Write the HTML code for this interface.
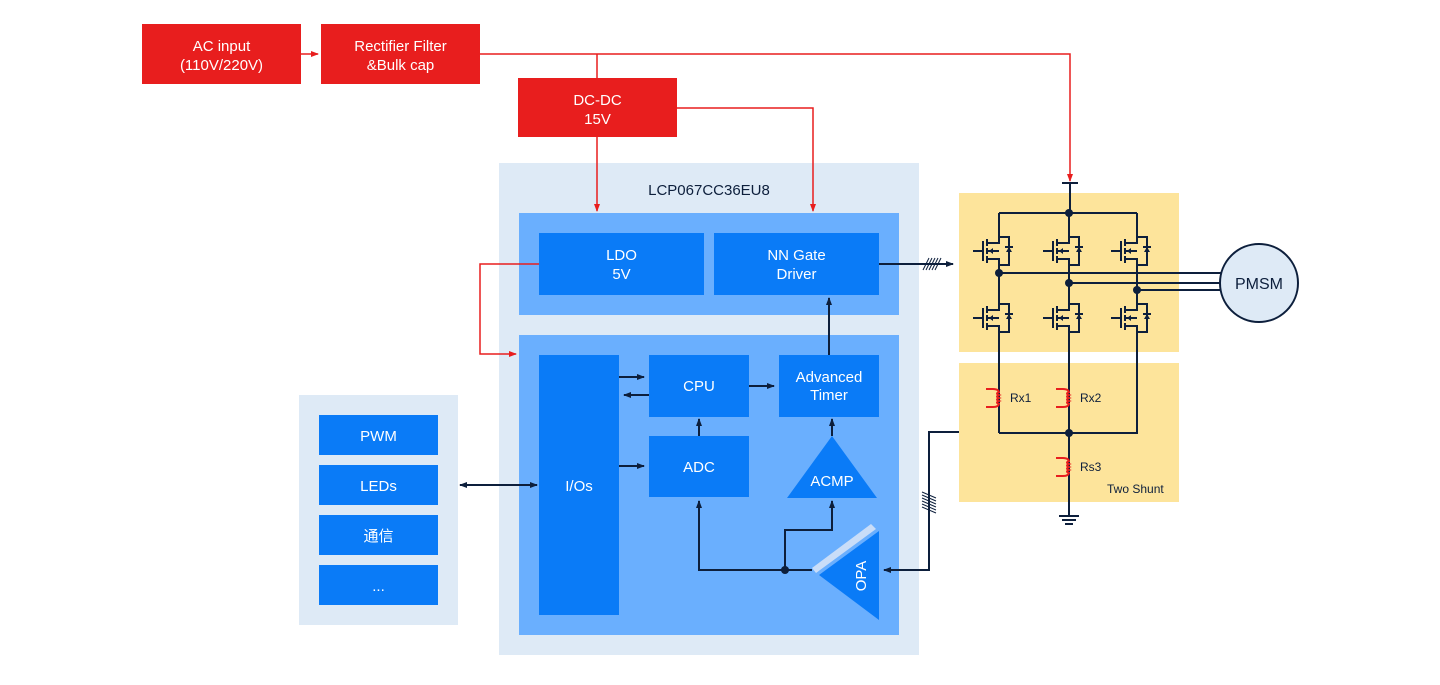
<!DOCTYPE html>
<html><head><meta charset="utf-8"><style>
body{margin:0;background:#fff}
svg text{font-family:"Liberation Sans","Noto Sans CJK SC",sans-serif}
</style></head><body>
<svg width="1440" height="680" viewBox="0 0 1440 680" xmlns="http://www.w3.org/2000/svg">
<defs>
<marker id="ak" markerWidth="8" markerHeight="8" refX="7" refY="4" orient="auto" markerUnits="userSpaceOnUse"><path d="M0,1 L8,4 L0,7 z" fill="#0d1f3c"/></marker>
<marker id="ar" markerWidth="8" markerHeight="8" refX="7" refY="4" orient="auto" markerUnits="userSpaceOnUse"><path d="M0,1 L8,4 L0,7 z" fill="#e81e1e"/></marker>
<marker id="aks" markerWidth="8" markerHeight="8" refX="1" refY="4" orient="auto" markerUnits="userSpaceOnUse"><path d="M8,1 L0,4 L8,7 z" fill="#0d1f3c"/></marker>
<g id="fet" fill="none" stroke="#0d1f3c" stroke-width="2">
<path d="M-26,0 H-16 M-16,-10 V10 M-12,-12 V-5 M-12,-3 V3 M-12,5 V12 M-12,-8 H0 V-18 M-12,8 H0 V18 M-12,0 H0 M0,-14 H10 V14 H0"/>
<path d="M10,-4 l-3,5 h6 z M-10,0 l4,-3 v6 z" fill="#0d1f3c" stroke="none"/>
<path d="M6,-4 H14" />
</g>
<g id="coil" fill="none" stroke="#e81e1e" stroke-width="2"><path d="M-13,-9 H-6 Q0,-9 0,-5 M-13,9 H-6 Q0,9 0,5"/><path d="M0,-6 q-4,1.5 0,3 q-4,1.5 0,3 q-4,1.5 0,3 q-4,1.5 0,3" /></g>
</defs>

<!-- power boxes -->
<rect x="142" y="24" width="159" height="60" fill="#e81e1e"/>
<text x="221.5" y="51" fill="#fff" font-size="15" text-anchor="middle">AC input</text>
<text x="221.5" y="70" fill="#fff" font-size="15" text-anchor="middle">(110V/220V)</text>
<rect x="321" y="24" width="159" height="60" fill="#e81e1e"/>
<text x="400.5" y="51" fill="#fff" font-size="15" text-anchor="middle">Rectifier Filter</text>
<text x="400.5" y="70" fill="#fff" font-size="15" text-anchor="middle">&amp;Bulk cap</text>
<rect x="518" y="78" width="159" height="59" fill="#e81e1e"/>
<text x="597.5" y="105" fill="#fff" font-size="15" text-anchor="middle">DC-DC</text>
<text x="597.5" y="124" fill="#fff" font-size="15" text-anchor="middle">15V</text>

<!-- chip -->
<rect x="499" y="163" width="420" height="492" fill="#deeaf6"/>
<text x="709" y="195" fill="#0d1f3c" font-size="15" text-anchor="middle">LCP067CC36EU8</text>
<rect x="519" y="213" width="380" height="102" fill="#6aaffe"/>
<rect x="519" y="335" width="380" height="300" fill="#6aaffe"/>
<g fill="#0a7bf7">
<rect x="539" y="233" width="165" height="62"/>
<rect x="714" y="233" width="165" height="62"/>
<rect x="539" y="355" width="80" height="260"/>
<rect x="649" y="355" width="100" height="62"/>
<rect x="779" y="355" width="100" height="62"/>
<rect x="649" y="436" width="100" height="61"/>
<path d="M832,436 L877,498 L787,498 z"/>
<path d="M819,575 L879,531 L879,620 z"/>
</g>
<path d="M812,568 L871,524 L876,529 L816,573 z" fill="#c9ddf8"/>
<g fill="#fff" font-size="15" text-anchor="middle">
<text x="621.5" y="260">LDO</text><text x="621.5" y="279">5V</text>
<text x="796.5" y="260">NN Gate</text><text x="796.5" y="279">Driver</text>
<text x="579" y="491">I/Os</text>
<text x="699" y="391">CPU</text>
<text x="829" y="382">Advanced</text><text x="829" y="400">Timer</text>
<text x="699" y="472">ADC</text>
<text x="832" y="486">ACMP</text>
<text x="0" y="0" transform="translate(866,576) rotate(-90)">OPA</text>
</g>

<g fill="none" stroke="#e81e1e" stroke-width="1.5">
<path d="M301,54 H318" marker-end="url(#ar)"/>
<path d="M480,54 H1070 V181" marker-end="url(#ar)"/>
<path d="M597,54 V78"/>
<path d="M597,137 V211" marker-end="url(#ar)"/>
<path d="M677,108 H813 V211" marker-end="url(#ar)"/>
<path d="M539,264 H480 V354 H516" marker-end="url(#ar)"/>
</g>

<g fill="none" stroke="#0d1f3c" stroke-width="2">
<path d="M619,377 H644" marker-end="url(#ak)"/>
<path d="M649,395 H624" marker-end="url(#ak)"/>
<path d="M749,386 H774" marker-end="url(#ak)"/>
<path d="M619,466 H644" marker-end="url(#ak)"/>
<path d="M699,436 V419" marker-end="url(#ak)"/>
<path d="M832,436 V419" marker-end="url(#ak)"/>
<path d="M829,355 V298" marker-end="url(#ak)"/>
<path d="M812,570 H699 V501" marker-end="url(#ak)"/>
<path d="M785,570 V530 H832 V501" marker-end="url(#ak)"/>
<path d="M879,264 H953" marker-end="url(#ak)"/>
<path d="M959,432 H929 V570 H884" marker-end="url(#ak)"/>
<path d="M460,485 H537" marker-start="url(#aks)" marker-end="url(#ak)"/>
</g>
<circle cx="785" cy="570" r="4" fill="#0d1f3c"/>
<g stroke="#0d1f3c" stroke-width="1">
<path d="M923,270 l6,-12 M926,270 l6,-12 M929,270 l6,-12 M932,270 l6,-12 M935,270 l6,-12"/>
<path d="M922,492 l14,6 M922,495 l14,6 M922,498 l14,6 M922,501 l14,6 M922,504 l14,6 M922,507 l14,6"/>
</g>

<!-- left panel -->
<rect x="299" y="395" width="159" height="230" fill="#deeaf6"/>
<g fill="#0a7bf7">
<rect x="319" y="415" width="119" height="40"/>
<rect x="319" y="465" width="119" height="40"/>
<rect x="319" y="515" width="119" height="40"/>
<rect x="319" y="565" width="119" height="40"/>
</g>
<g fill="#fff" font-size="15" text-anchor="middle">
<text x="378.5" y="441">PWM</text>
<text x="378.5" y="491">LEDs</text>
<text x="378.5" y="541">通信</text>
<text x="378.5" y="591">...</text>
</g>

<!-- inverter -->
<rect x="959" y="193" width="220" height="159" fill="#fde49b"/>
<rect x="959" y="363" width="220" height="139" fill="#fde49b"/>
<g fill="none" stroke="#0d1f3c" stroke-width="2">
<path d="M1062,183 H1078 M1070,183 V213 M999,213 H1137"/>
<path d="M999,213 V233 M999,269 V300 M999,336 V433"/>
<path d="M1069,213 V233 M1069,269 V300 M1069,336 V515"/>
<path d="M1137,213 V233 M1137,269 V300 M1137,336 V433 H999"/>
<path d="M999,273 H1221 M1069,283 H1221 M1137,290 H1221"/>
<path d="M1059,516 H1079 M1062,520 H1076 M1065,524 H1073"/>
</g>
<use href="#fet" x="999" y="251"/><use href="#fet" x="1069" y="251"/><use href="#fet" x="1137" y="251"/>
<use href="#fet" x="999" y="318"/><use href="#fet" x="1069" y="318"/><use href="#fet" x="1137" y="318"/>
<g fill="#0d1f3c"><circle cx="1069" cy="213" r="4"/><circle cx="999" cy="273" r="4"/><circle cx="1069" cy="283" r="4"/><circle cx="1137" cy="290" r="4"/><circle cx="1069" cy="433" r="4"/></g>
<use href="#coil" x="999" y="398"/><use href="#coil" x="1069" y="398"/><use href="#coil" x="1069" y="467"/>
<g fill="#0d1f3c" font-size="12">
<text x="1010" y="402">Rx1</text><text x="1080" y="402">Rx2</text><text x="1080" y="471">Rs3</text>
<text x="1107" y="493">Two Shunt</text>
</g>
<circle cx="1259" cy="283" r="39" fill="#deeaf6" stroke="#0d1f3c" stroke-width="2"/>
<text x="1259" y="289" fill="#0d1f3c" font-size="16" text-anchor="middle">PMSM</text>
</svg>
</body></html>
